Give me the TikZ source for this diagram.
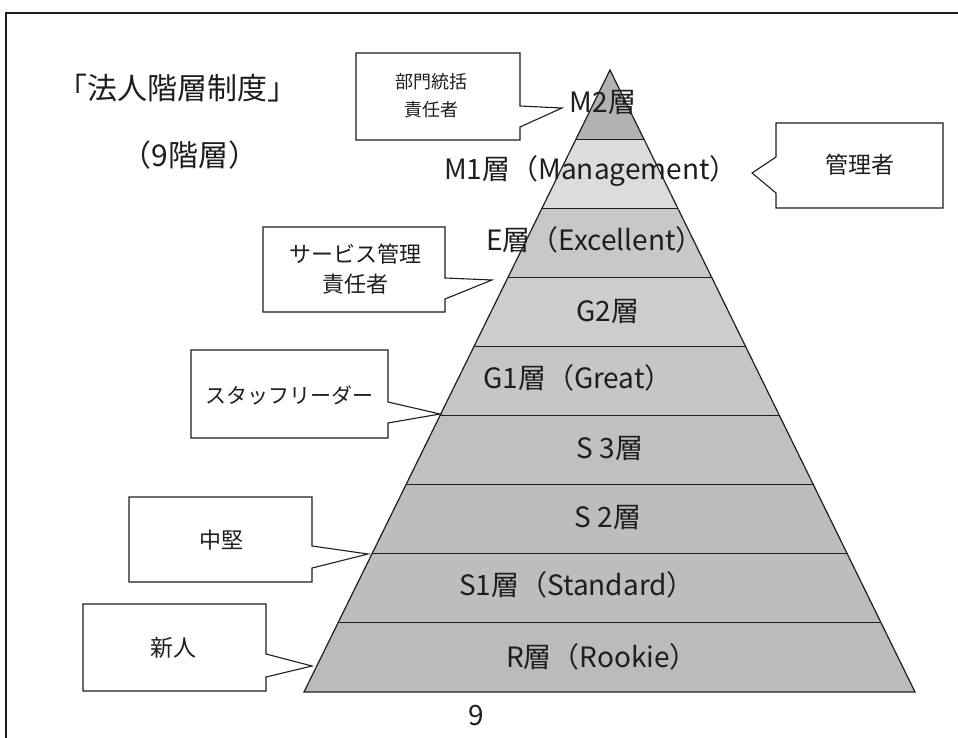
\documentclass[tikz,border=0pt]{standalone}
\usepackage{fontspec}
\setmainfont{Noto Sans CJK JP}
\usetikzlibrary{calc}
\definecolor{lM2}{HTML}{B2B2B2}
\definecolor{lM1}{HTML}{DCDCDC}
\definecolor{lE}{HTML}{C8C8C8}
\definecolor{lG2}{HTML}{CDCDCD}
\definecolor{lG1}{HTML}{C6C6C6}
\definecolor{lS3}{HTML}{C0C0C0}
\definecolor{lS2}{HTML}{BDBDBD}
\definecolor{lS1}{HTML}{BDBDBD}
\definecolor{lR}{HTML}{BBBBBB}
\definecolor{ink}{HTML}{1E1E1E}
\tikzset{
  lbl/.style={font=\fontsize{28}{30}\selectfont, inner sep=0pt, text=ink},
  ttl/.style={font=\fontsize{30}{32}\selectfont, inner sep=0pt, text=ink},
  cbox/.style={draw=ink, line width=1.1pt, fill=white, line join=miter},
  ctext/.style={align=center, inner sep=0pt, text=ink},
  edge/.style={draw=ink, line width=1.2pt},
}
\begin{document}
\begin{tikzpicture}[x=1pt,y=-1pt]
\useasboundingbox (0,0) rectangle (958,738);
% page frame
\coordinate (fTR) at (958,13);
\coordinate (fTL) at (6,13);
\coordinate (fBL) at (6,738);
\draw[line width=1.6pt, draw=ink] (fTR) -- (fTL) -- (fBL);

% pyramid
\coordinate (A) at (610,70);
\coordinate (BL) at (304,692);
\coordinate (BR) at (915,692);
\foreach \k/\c in {0/lM2,1/lM1,2/lE,3/lG2,4/lG1,5/lS3,6/lS2,7/lS1,8/lR} {
  \pgfmathsetmacro\ta{\k/9}
  \pgfmathsetmacro\tb{(\k+1)/9}
  \fill[\c] ($(A)!\ta!(BL)$) -- ($(A)!\tb!(BL)$) -- ($(A)!\tb!(BR)$) -- ($(A)!\ta!(BR)$) -- cycle;
}
\foreach \k in {1,...,8} {
  \pgfmathsetmacro\ta{\k/9}
  \draw[edge] ($(A)!\ta!(BL)$) -- ($(A)!\ta!(BR)$);
}
\draw[edge, line join=miter] (A) -- (BL) -- (BR) -- cycle;

% layer labels
\node[lbl] (lm2) at (603,103) {M2層};
\node[lbl] (lm1) at (591,171) {M1層（Management）};
\node[lbl] (le)  at (595,240) {E層（Excellent）};
\node[lbl] (lg2) at (608,312) {G2層};
\node[lbl] (lg1) at (578,378) {G1層（Great）};
\node[lbl] (ls3) at (610,449) {S 3層};
\node[lbl] (ls2) at (608,518) {S 2層};
\node[lbl] (ls1) at (577,585) {S1層（Standard）};
\node[lbl] (lr)  at (602,657) {R層（Rookie）};

% titles
\node[ttl] (t1) at (177,88) {「法人階層制度」};
\node[ttl] (t2) at (190,155) {（9階層）};

% callouts
\draw[cbox] (356,53) -- (520,53) -- (520,106) -- (562,108) -- (520,127) -- (520,140) -- (356,140) -- cycle;
\node[ctext, font=\fontsize{18}{28}\selectfont] (c1) at (431,96) {部門統括\\責任者};

\draw[cbox] (776,123) -- (943,123) -- (943,208) -- (776,208) -- (776,193) -- (752,173) -- (776,157) -- cycle;
\node[ctext, font=\fontsize{23}{28}\selectfont] (c2) at (860,165) {管理者};

\draw[cbox] (263,227) -- (445,227) -- (445,278) -- (492,280) -- (445,299) -- (445,312) -- (263,312) -- cycle;
\node[ctext, font=\fontsize{22}{30}\selectfont] (c3) at (355,269) {サービス管理\\責任者};

\draw[cbox] (191,350) -- (388,350) -- (388,402) -- (440,414) -- (388,423) -- (388,438) -- (191,438) -- cycle;
\node[ctext, font=\fontsize{21}{28}\selectfont] (c4) at (289,395) {スタッフリーダー};

\draw[cbox] (129,497) -- (312,497) -- (312,546) -- (368,554) -- (312,568) -- (312,582) -- (129,582) -- cycle;
\node[ctext, font=\fontsize{22}{28}\selectfont] (c5) at (221,540) {中堅};

\draw[cbox] (83,604) -- (266,604) -- (266,654) -- (312,666) -- (266,677) -- (266,691) -- (83,691) -- cycle;
\node[ctext, font=\fontsize{23}{28}\selectfont] (c6) at (173,648) {新人};

% page number
\node[ctext, font=\fontsize{28}{30}\selectfont] (pg) at (476,716) {9};
\end{tikzpicture}
\end{document}
